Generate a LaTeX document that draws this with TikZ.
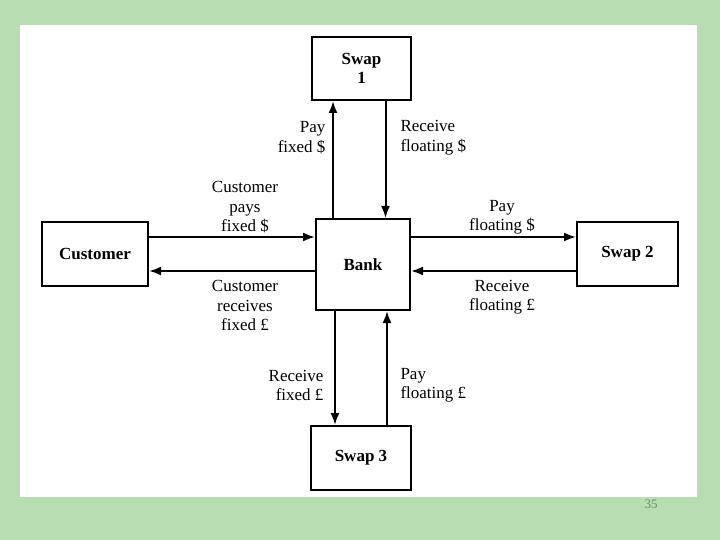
\documentclass[tikz,border=0pt]{standalone}
\usepackage{fontspec}
\setmainfont{Liberation Serif}
\usetikzlibrary{arrows.meta,positioning}

\definecolor{slidebg}{RGB}{184,221,178}
\definecolor{pagenum}{RGB}{110,140,115}

\begin{document}
\begin{tikzpicture}[x=1pt,y=-1pt,
  every node/.style={align=center,font=\fontsize{17}{19.5}\selectfont},
  party/.style={draw,line width=2pt,font=\fontsize{17}{19.5}\selectfont\bfseries,inner sep=0pt},
  flow/.style={align=left},
  arr/.style={-{Latex[length=12pt,width=9pt]},line width=2pt}]
% slide background and white panel
\fill[slidebg] (0,0) rectangle (720,540);
\fill[white] (20,25) rectangle (697,497);
\node[text=pagenum,font=\fontsize{13}{15}\selectfont] (pg) at (651,504) {35};
% parties
\node[party,minimum width=99pt,minimum height=63pt] (swap1) at (361.5,68.5) {Swap\\1};
\node[party,minimum width=94pt,minimum height=91pt] (bank) at (363,264.5) {Bank};
\node[party,minimum width=106pt,minimum height=64pt] (cust) at (95,254) {Customer};
\node[party,minimum width=101pt,minimum height=64pt] (swap2) at (627.5,254) {Swap 2};
\node[party,minimum width=100pt,minimum height=64pt] (swap3) at (361,458) {Swap 3};
% flows
\draw[arr] ([xshift=-30pt]bank.north) coordinate (a1) -- (a1 |- swap1.south);
\draw[arr] ([xshift=24pt]swap1.south) coordinate (a2) -- (a2 |- bank.north);
\draw[arr] ([yshift=17pt]cust.east) coordinate (a3) -- (a3 -| bank.west);
\draw[arr] ([yshift=-17pt]cust.east -| bank.west) coordinate (a4) -- (a4 -| cust.east);
\draw[arr] ([yshift=17pt]swap2.west -| bank.east) coordinate (a5) -- (a5 -| swap2.west);
\draw[arr] ([yshift=-17pt]swap2.west) coordinate (a6) -- (a6 -| bank.east);
\draw[arr] ([xshift=-28pt]bank.south) coordinate (a7) -- (a7 |- swap3.north);
\draw[arr] ([xshift=26pt]swap3.north) coordinate (a8) -- (a8 |- bank.south);
% labels
\node[align=right,anchor=east] (lpayfix) at (329,137.5) {Pay\\fixed \$};
\node[flow,anchor=west] (lrecflt) at (397,137.5) {Receive\\floating \$};
\node (lcustpays) at (245,207.5) {Customer\\pays\\fixed \$};
\node (lcustrec) at (245,305.5) {Customer\\receives\\fixed £};
\node (lpayflt) at (502,217.5) {Pay\\floating \$};
\node (lrecfltp) at (502,297) {Receive\\floating £};
\node[align=right,anchor=east] (lrecfix) at (327,385.5) {Receive\\fixed £};
\node[flow,anchor=west] (lpayfltp) at (397,385.5) {Pay\\floating £};
\end{tikzpicture}
\end{document}
